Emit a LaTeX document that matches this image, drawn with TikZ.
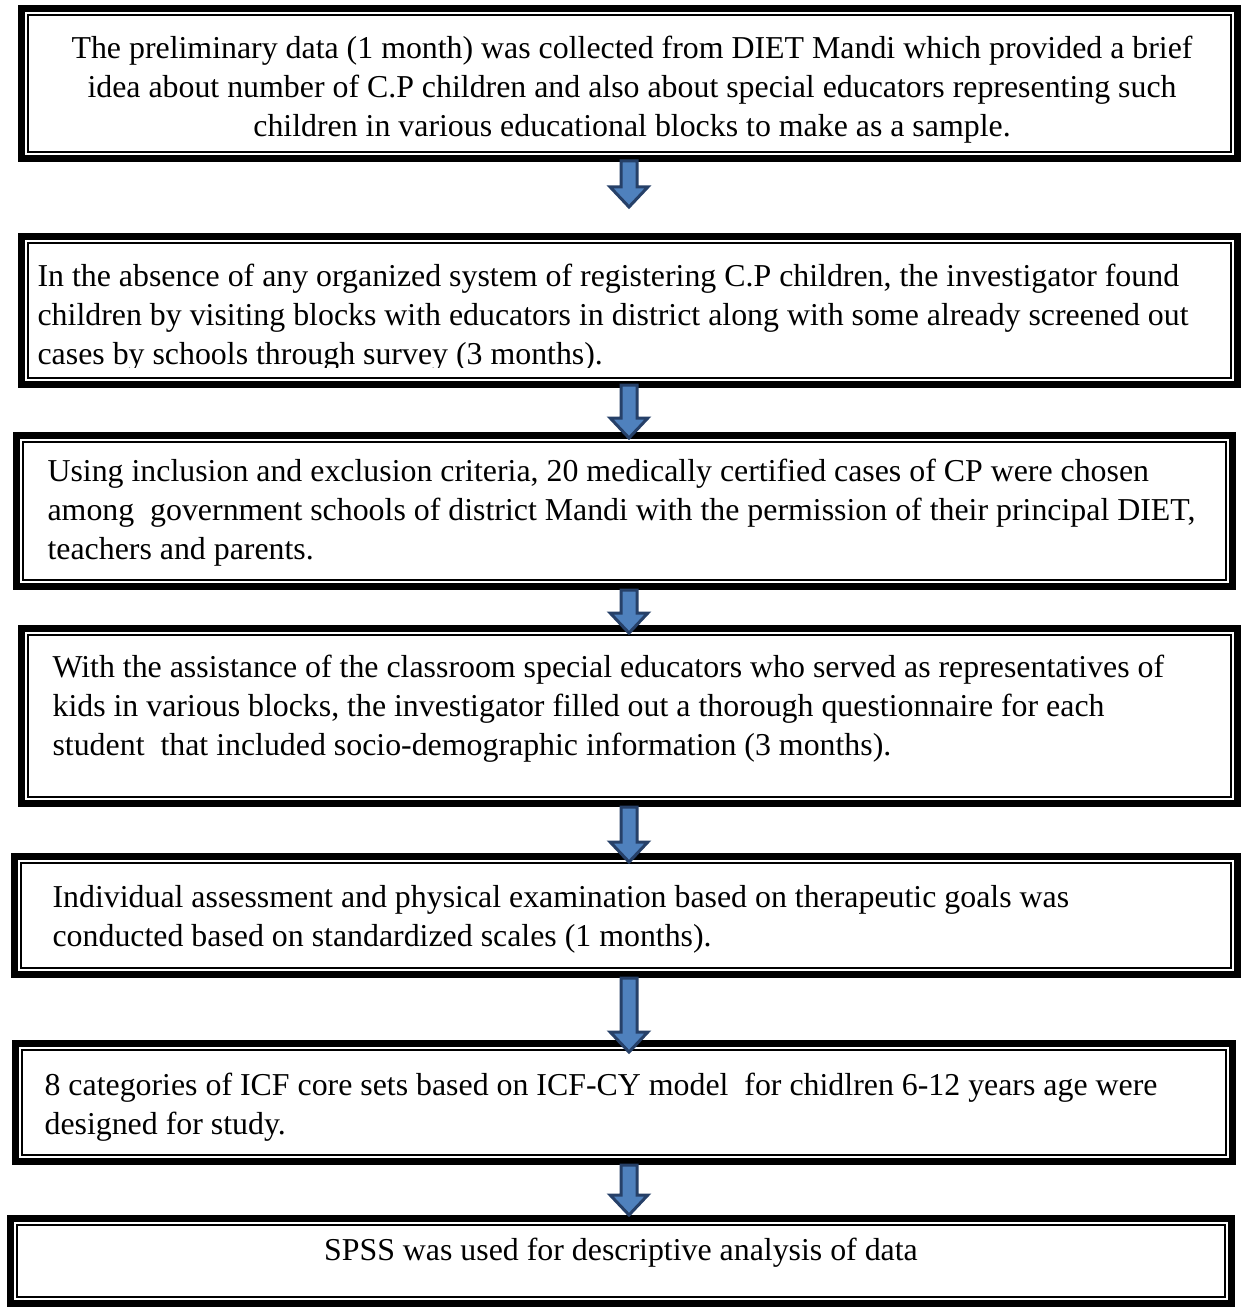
\documentclass[tikz,border=0pt]{standalone}
\usepackage{fontspec}
\setmainfont{Liberation Serif}
\usetikzlibrary{calc,fit}
\definecolor{arrowfill}{RGB}{79,129,189}
\definecolor{arrowedge}{RGB}{38,64,104}

% double frame: heavy outer rule, thin inner rule
\newcommand\doubleframe[1]{%
  \draw[line width=2.45pt] ($(#1.north west)+(3.5,3.5)$) rectangle ($(#1.south east)+(-3.5,-3.5)$);
  \draw[line width=0.75pt] ($(#1.north west)+(10,10)$) rectangle ($(#1.south east)+(-10,-10)$);}

% downward block arrow between two points
\newcommand\blockarrow[2]{%
  \filldraw[fill=arrowfill,draw=arrowedge,line width=1.05pt,line join=miter]
    let \p1=(#1), \p2=(#2) in
    (\x1-2.8pt,\y1) -- (\x1+2.8pt,\y1) -- (\x1+2.8pt,\y2+7pt) -- (\x1+6.6pt,\y2+7pt)
    -- (\x1,\y2) -- (\x1-6.6pt,\y2+7pt) -- (\x1-2.8pt,\y2+7pt) -- cycle;}

\begin{document}
\begin{tikzpicture}[x=0.35pt,y=-0.35pt,
  area/.style={inner sep=0pt,outer sep=0pt},
  txt/.style={inner sep=0pt,font=\fontsize{11.15pt}{13.6pt}\selectfont}]
\useasboundingbox[fill=white] (0,0) rectangle (1243,1312);

% box outlines
\node[area,fit={(18,5) (1241,162)}]    (b1) {};
\node[area,fit={(18,233) (1241,388)}]  (b2) {};
\node[area,fit={(13,432) (1236,590)}]  (b3) {};
\node[area,fit={(18,625) (1241,807)}]  (b4) {};
\node[area,fit={(11,853) (1241,978)}]  (b5) {};
\node[area,fit={(12,1040) (1236,1165)}] (b6) {};
\node[area,fit={(7,1215) (1235,1307)}]  (b7) {};
\foreach \b in {b1,b2,b3,b4,b5,b6,b7} {\doubleframe{\b}}

% texts
\node[txt,anchor=north,align=center] (t1) at (632,31)
  {\strut The preliminary data (1 month) was collected from DIET Mandi which provided a brief\\
   idea about number of C.P children and also about special educators representing such\\
   children in various educational blocks to make as a sample.};
\begin{scope}
  % the last line of this box runs into its lower margin
  \clip (b2.north west) rectangle ($(b2.south east)+(0,-21)$);
  \node[txt,anchor=north west,align=left] (t2) at (37,259)
    {\strut In the absence of any organized system of registering C.P children, the investigator found\\
     children by visiting blocks with educators in district along with some already screened out\\
     cases by schools through survey (3 months).};
\end{scope}
\node[txt,anchor=north west,align=left] (t3) at (47,454)
  {\strut Using inclusion and exclusion criteria, 20 medically certified cases of CP were chosen\\
   among\ \ government schools of district Mandi with the permission of their principal DIET,\\
   teachers and parents.};
\node[txt,anchor=north west,align=left] (t4) at (52,650)
  {\strut With the assistance of the classroom special educators who served as representatives of\\
   kids in various blocks, the investigator filled out a thorough questionnaire for each\\
   student\ \ that included socio-demographic information (3 months).};
\node[txt,anchor=north west,align=left] (t5) at (52,880)
  {\strut Individual assessment and physical examination based on therapeutic goals was\\
   conducted based on standardized scales (1 months).};
\node[txt,anchor=north west,align=left] (t6) at (44,1068)
  {\strut 8 categories of ICF core sets based on ICF-CY model\ \ for chidlren 6-12 years age were\\
   designed for study.};
\node[txt,anchor=north] (t7) at (621,1233)
  {\strut SPSS was used for descriptive analysis of data};

% connectors
\coordinate (axis) at (629,0);
\coordinate (a1end) at (629,207);
\blockarrow{$(b1.south -| axis)+(0,-1)$}{a1end}
\blockarrow{$(b2.south -| axis)+(0,-3)$}{$(b3.north -| axis)+(0,6)$}
\blockarrow{$(b3.south -| axis)$}{$(b4.north -| axis)+(0,8)$}
\blockarrow{$(b4.south -| axis)$}{$(b5.north -| axis)+(0,9)$}
\blockarrow{$(b5.south -| axis)$}{$(b6.north -| axis)+(0,12)$}
\blockarrow{$(b6.south -| axis)$}{$(b7.north -| axis)$}
\end{tikzpicture}
\end{document}
